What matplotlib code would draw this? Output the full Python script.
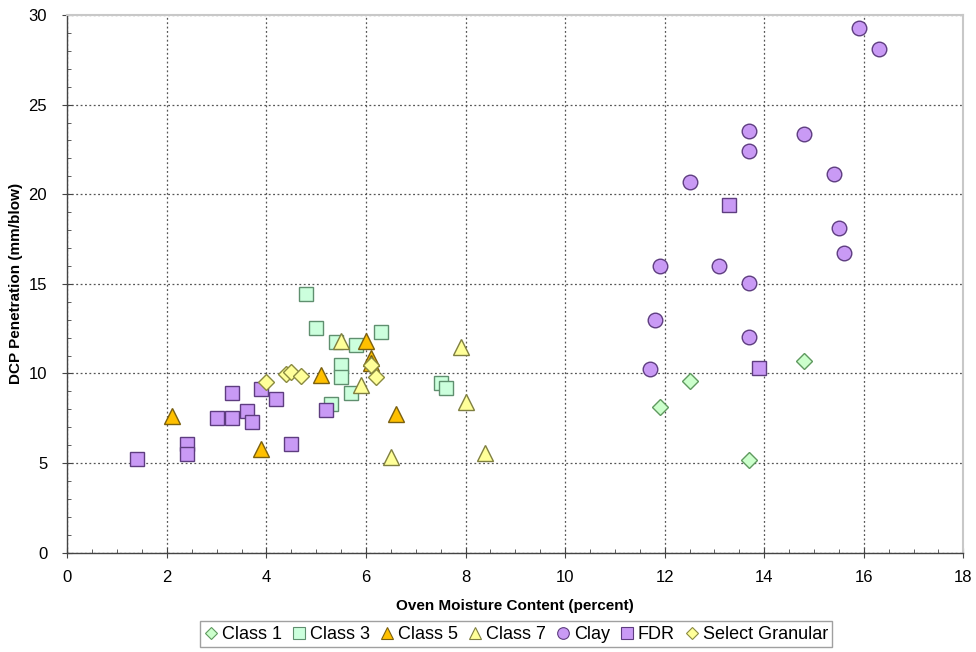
import matplotlib
matplotlib.use("Agg")
import matplotlib.pyplot as plt
from matplotlib.ticker import MultipleLocator

plt.rcParams['font.family'] = ['Liberation Sans', 'DejaVu Sans']

class1_x = [11.9, 12.5, 13.7, 14.8]
class1_y = [8.15, 9.58, 5.17, 10.72]

class3_x = [4.8, 5.0, 5.4, 5.8, 6.3, 5.5, 5.5, 5.7, 5.3, 7.5, 7.6]
class3_y = [14.45, 12.56, 11.78, 11.57, 12.33, 10.47, 9.82, 8.9, 8.28, 9.45, 9.17]

class5_x = [2.1, 3.9, 5.1, 6.0, 6.1, 6.1, 6.6]
class5_y = [7.63, 5.77, 9.9, 11.8, 10.85, 10.6, 7.74]

class7_x = [5.5, 7.9, 5.9, 8.0, 6.5, 8.4]
class7_y = [11.81, 11.46, 9.34, 8.43, 5.36, 5.55]

clay_x = [15.9, 16.3, 13.7, 13.7, 14.8, 15.4, 12.5, 15.5, 15.6, 11.9, 13.1, 13.7, 11.8, 13.7, 11.7]
clay_y = [29.25, 28.1, 23.5, 22.4, 23.35, 21.15, 20.7, 18.1, 16.7, 16.0, 16.0, 15.05, 12.98, 12.03, 10.27]

fdr_x = [1.4, 2.4, 2.4, 3.0, 3.3, 3.3, 3.6, 3.7, 3.9, 4.2, 4.5, 5.2, 13.3, 13.9]
fdr_y = [5.21, 6.07, 5.49, 7.5, 7.5, 8.93, 7.89, 7.31, 9.12, 8.56, 6.08, 7.96, 19.4, 10.29]

sg_x = [4.0, 4.4, 4.5, 4.7, 6.1, 6.2]
sg_y = [9.54, 9.97, 10.1, 9.86, 10.45, 9.82]

series = [
    ("Class 1", class1_x, class1_y, "D", "#ccffcc", "#5f9a5f", 8),
    ("Class 3", class3_x, class3_y, "s", "#ccffdd", "#5f8f6f", 10),
    ("Class 5", class5_x, class5_y, "^", "#ffc000", "#7a6010", 11),
    ("Class 7", class7_x, class7_y, "^", "#ffff99", "#7f7f40", 11),
    ("Clay", clay_x, clay_y, "o", "#c99af5", "#5e3d80", 10.5),
    ("FDR", fdr_x, fdr_y, "s", "#c99af5", "#5e3d80", 10),
    ("Select Granular", sg_x, sg_y, "D", "#ffff99", "#8a8a40", 8),
]

fig = plt.figure(figsize=(9.76, 6.52), dpi=100)
ax = fig.add_axes([0.069, 0.1523, 0.918, 0.8247])

for name, xs, ys, m, fc, ec, ms in series:
    ax.plot(xs, ys, linestyle='none', marker=m, markersize=ms,
            markerfacecolor=fc, markeredgecolor=ec, markeredgewidth=1.0,
            label=name, zorder=3)

ax.set_xlim(0, 18)
ax.set_ylim(0, 30)
ax.xaxis.set_major_locator(MultipleLocator(2))
ax.xaxis.set_minor_locator(MultipleLocator(0.5))
ax.yaxis.set_major_locator(MultipleLocator(5))
ax.yaxis.set_minor_locator(MultipleLocator(1))
ax.grid(True, which='major', linestyle=(0, (1.5, 2)), color='#555555', linewidth=0.9)
ax.set_axisbelow(True)

for s in ['left', 'bottom']:
    ax.spines[s].set_color('#444444')
    ax.spines[s].set_linewidth(1.0)
for s in ['top', 'right']:
    ax.spines[s].set_color('#c8c8c8')
    ax.spines[s].set_linewidth(1.5)

ax.tick_params(which='major', direction='inout', length=7, color='#444444', labelsize=12)
ax.tick_params(which='minor', direction='in', length=3, color='#444444')
ax.tick_params(axis='x', which='major', pad=9)
ax.tick_params(axis='y', which='major', pad=11)
ax.tick_params(axis='x', which='both', top=False)
ax.tick_params(axis='y', which='both', right=False)

ax.set_xlabel("Oven Moisture Content (percent)", fontsize=11, fontweight='bold', labelpad=10)
ax.set_ylabel("DCP Penetration (mm/blow)", fontsize=11, fontweight='bold', labelpad=4)

small = []
for name, xs, ys, m, fc, ec, ms in series:
    h, = ax.plot([], [], linestyle='none', marker=m, markersize=ms * 0.8,
                 markerfacecolor=fc, markeredgecolor=ec, markeredgewidth=0.8)
    small.append(h)

leg = fig.legend(small, [s[0] for s in series], loc='center', bbox_to_anchor=(0.529, 0.027),
                 ncol=7, frameon=True, fancybox=False, fontsize=13,
                 handlelength=0.7, handletextpad=0.25, columnspacing=0.6,
                 borderpad=0.25, borderaxespad=0)
leg.get_frame().set_edgecolor('#888888')
leg.get_frame().set_linewidth(1.0)

fig.savefig("out.png", dpi=100)
